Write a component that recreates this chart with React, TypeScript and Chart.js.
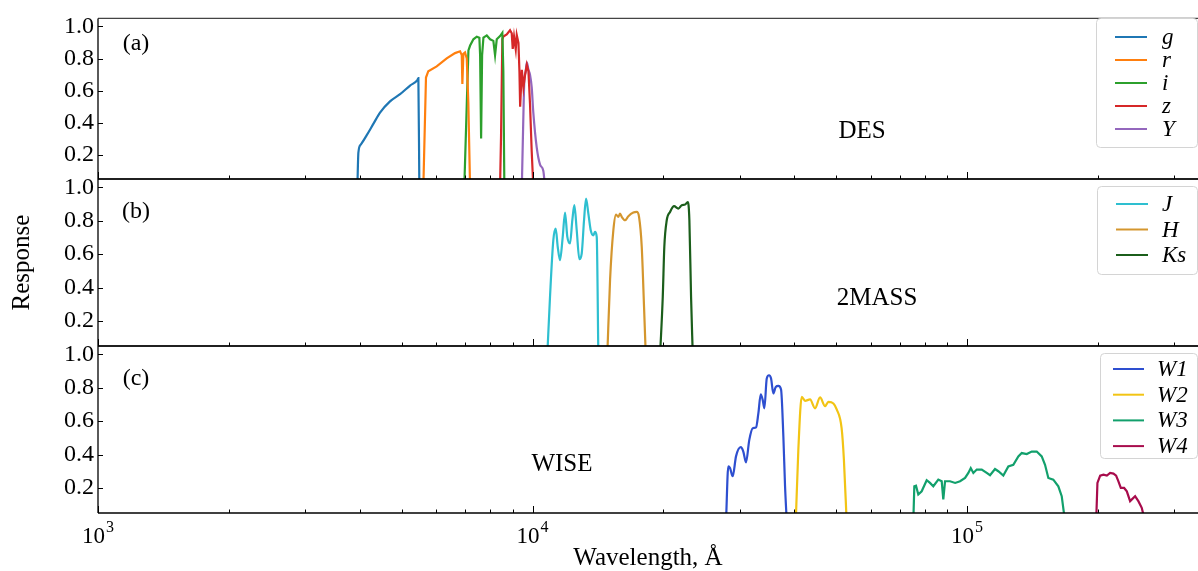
import React, { useEffect, useRef } from 'react';
import { Chart, registerables } from 'chart.js';

Chart.register(...registerables);

const WIDTH = 1198;
const HEIGHT = 571;
const SERIF = "'Liberation Serif', 'Times New Roman', Times, serif";

// axis ranges and ticks
const xMin = 1000;
const xMax = 340000;
const yMin = 0.05;
const yMax = 1.05;
const yTickValues = [0.2, 0.4, 0.6, 0.8, 1.0];
const xMajorTicks = [1e3, 1e4, 1e5];
const xMajorExponents = ['3', '4', '5'];

// ---------- DES ----------
const gWave = [3953, 3974, 4024, 4154, 4302, 4457, 4699, 4956, 5226, 5432, 5461, 5489];
const gResp = [0, 0.214, 0.264, 0.323, 0.393, 0.463, 0.533, 0.578, 0.632, 0.666, 0.678, 0];
const rWave = [5607, 5686, 5756, 6018, 6346, 6632, 6812, 6873, 6895, 6932, 6994, 7057, 7117, 7182];
const rResp = [0, 0.682, 0.721, 0.751, 0.801, 0.834, 0.845, 0.821, 0.642, 0.829, 0.838, 0.8, 0.522, 0];
const iWave = [6966, 7059, 7120, 7184, 7310, 7443, 7545, 7575, 7615, 7655, 7709, 7848, 7987, 8126, 8199, 8273, 8419, 8522, 8567, 8613];
const iResp = [0, 0.522, 0.851, 0.881, 0.92, 0.936, 0.93, 0.821, 0.303, 0.821, 0.93, 0.944, 0.92, 0.91, 0.821, 0.92, 0.94, 0.96, 0.72, 0];
const zWave = [8419, 8464, 8522, 8567, 8722, 8877, 8957, 9004, 9067, 9149, 9198, 9281, 9330, 9365, 9449, 9530, 9616, 9702, 9786, 9867, 9957, 10042];
const zResp = [0, 0.323, 0.92, 0.937, 0.95, 0.976, 0.957, 0.86, 0.937, 0.858, 0.946, 0.897, 0.72, 0.5, 0.73, 0.62, 0.701, 0.761, 0.721, 0.519, 0.221, 0];
const yWave = [9449, 9530, 9575, 9646, 9702, 9786, 9867, 9957, 10042, 10226, 10406, 10590, 10685];
const yResp = [0, 0.463, 0.66, 0.72, 0.777, 0.73, 0.7, 0.62, 0.463, 0.245, 0.14, 0.1, 0];

// ---------- 2MASS ----------
const jWave = [10816, 10971, 11165, 11307, 11428, 11568, 11735, 11879, 12025, 12198, 12348, 12480, 12639, 12815, 12978, 13138, 13278, 13443, 13612, 13801, 13926, 14052, 14172];
const jResp = [0, 0.345, 0.684, 0.753, 0.644, 0.564, 0.703, 0.849, 0.703, 0.664, 0.803, 0.893, 0.743, 0.57, 0.604, 0.803, 0.932, 0.843, 0.743, 0.713, 0.733, 0.703, 0];
const hWave = [14865, 15081, 15346, 15567, 15758, 15900, 16044, 16328, 16616, 17061, 17371, 17584, 17837, 18056, 18219];
const hResp = [0, 0.445, 0.743, 0.837, 0.823, 0.843, 0.823, 0.803, 0.827, 0.849, 0.853, 0.823, 0.644, 0.285, 0];
const ksWave = [19660, 19940, 20105, 20365, 20725, 21170, 21655, 22050, 22440, 22765, 22960, 23165, 23375];
const ksResp = [0, 0.345, 0.644, 0.803, 0.853, 0.887, 0.873, 0.893, 0.897, 0.912, 0.803, 0.345, 0];

// ---------- WISE ----------
const w1Wave = [27880, 28220, 28475, 28885, 29395, 30140, 30555, 30995, 31540, 32120, 32690, 33090, 33510, 33870, 34160, 34595, 35020, 35395, 35830, 36285, 36790, 37320, 37780, 38120, 38465];
const w1Resp = [0, 0.329, 0.319, 0.27, 0.389, 0.444, 0.418, 0.353, 0.488, 0.558, 0.563, 0.646, 0.76, 0.726, 0.677, 0.855, 0.875, 0.855, 0.766, 0.805, 0.811, 0.79, 0.508, 0.21, 0];
const w2Wave = [40350, 40900, 41650, 42380, 43520, 44680, 45890, 47130, 47960, 49250, 50120, 51440, 52070, 52830];
const w2Resp = [0, 0.429, 0.746, 0.722, 0.73, 0.677, 0.742, 0.69, 0.716, 0.706, 0.671, 0.558, 0.369, 0];
const w3Wave = [75220, 75620, 76300, 77230, 78630, 80740, 82170, 83620, 85870, 87430, 88170, 88990, 91370, 93890, 96370, 98950, 100690, 101980, 103390, 105270, 108090, 110990, 112950, 115970, 118010, 121190, 124450, 127780, 131220, 133620, 137210, 140880, 144660, 148540, 151170, 153830, 157950, 162200, 165140, 168060];
const w3Resp = [0, 0.21, 0.214, 0.161, 0.18, 0.246, 0.23, 0.21, 0.25, 0.24, 0.131, 0.24, 0.24, 0.23, 0.24, 0.26, 0.29, 0.319, 0.29, 0.31, 0.31, 0.29, 0.276, 0.313, 0.3, 0.274, 0.329, 0.339, 0.389, 0.409, 0.403, 0.418, 0.418, 0.389, 0.339, 0.26, 0.25, 0.21, 0.151, 0];
const w4Wave = [198200, 199540, 202450, 206020, 209760, 213460, 217230, 220310, 223020, 225870, 229850, 233160, 237280, 243650, 247870, 252350, 256800];
const w4Resp = [0, 0.23, 0.274, 0.28, 0.274, 0.29, 0.286, 0.274, 0.24, 0.2, 0.2, 0.18, 0.121, 0.151, 0.121, 0.081, 0];

type Band = { label: string; wave: number[]; resp: number[]; color: string; smooth?: boolean };

const desBands: Band[] = [
  { label: 'g', wave: gWave, resp: gResp, color: '#1f77b4', smooth: true },
  { label: 'r', wave: rWave, resp: rResp, color: '#ff7f0e' },
  { label: 'i', wave: iWave, resp: iResp, color: '#2ca02c' },
  { label: 'z', wave: zWave, resp: zResp, color: '#d62728' },
  { label: 'Y', wave: yWave, resp: yResp, color: '#9467bd', smooth: true },
];
const tmassBands: Band[] = [
  { label: 'J', wave: jWave, resp: jResp, color: '#2ebfd0', smooth: true },
  { label: 'H', wave: hWave, resp: hResp, color: '#d4962e', smooth: true },
  { label: 'Ks', wave: ksWave, resp: ksResp, color: '#1b5e1b', smooth: true },
];
const wiseBands: Band[] = [
  { label: 'W1', wave: w1Wave, resp: w1Resp, color: '#2e4fd0', smooth: true },
  { label: 'W2', wave: w2Wave, resp: w2Resp, color: '#f2c414', smooth: true },
  { label: 'W3', wave: w3Wave, resp: w3Resp, color: '#12a06c' },
  { label: 'W4', wave: w4Wave, resp: w4Resp, color: '#a80c4c' },
];

type Panel = {
  key: string;
  areaTop: number;
  areaBottom: number;
  bands: Band[];
  tag: string;
  tagPos: [number, number];
  name: string;
  namePos: [number, number];
  topColor: string;
  legend: { left: number; top: number; right: number; bottom: number; row0: number; step: number; lineX0: number; lineX1: number; textX: number; font: number };
  isBottom: boolean;
  yTitle?: string;
};

const panels: Panel[] = [
  {
    key: 'a', areaTop: 12, areaBottom: 179, bands: desBands, tag: '(a)', tagPos: [136, 44], name: 'DES', namePos: [862, 131],
    topColor: '#444', isBottom: false,
    legend: { left: 1096, top: 18, right: 1197, bottom: 147, row0: 37, step: 23, lineX0: 1115, lineX1: 1147, textX: 1162, font: 23 },
  },
  {
    key: 'b', areaTop: 179, areaBottom: 346, bands: tmassBands, tag: '(b)', tagPos: [136, 212], name: '2MASS', namePos: [877, 298],
    topColor: '#000', isBottom: false, yTitle: 'Response',
    legend: { left: 1097, top: 186, right: 1197, bottom: 274, row0: 204, step: 25.5, lineX0: 1116, lineX1: 1148, textX: 1162, font: 23 },
  },
  {
    key: 'c', areaTop: 346, areaBottom: 513, bands: wiseBands, tag: '(c)', tagPos: [136, 379], name: 'WISE', namePos: [562, 464],
    topColor: '#000', isBottom: true,
    legend: { left: 1100, top: 353, right: 1197, bottom: 458, row0: 369, step: 25.7, lineX0: 1113, lineX1: 1144, textX: 1157, font: 23 },
  },
];

function roundRectPath(ctx: CanvasRenderingContext2D, x0: number, y0: number, x1: number, y1: number, r: number) {
  ctx.beginPath();
  ctx.moveTo(x0 + r, y0);
  ctx.lineTo(x1 - r, y0);
  ctx.quadraticCurveTo(x1, y0, x1, y0 + r);
  ctx.lineTo(x1, y1 - r);
  ctx.quadraticCurveTo(x1, y1, x1 - r, y1);
  ctx.lineTo(x0 + r, y1);
  ctx.quadraticCurveTo(x0, y1, x0, y1 - r);
  ctx.lineTo(x0, y0 + r);
  ctx.quadraticCurveTo(x0, y0, x0 + r, y0);
  ctx.closePath();
}

function makeDecor(panel: Panel) {
  return {
    id: 'decor-' + panel.key,
    afterDraw(chart: any) {
      const { ctx, chartArea: ca } = chart;
      const xs = chart.scales.x;
      const ys = chart.scales.y;
      ctx.save();
      // top spine
      ctx.strokeStyle = panel.topColor;
      ctx.lineWidth = 1.2;
      ctx.beginPath();
      ctx.moveTo(ca.left, ca.top);
      ctx.lineTo(ca.right, ca.top);
      ctx.stroke();
      // left & bottom spines
      ctx.strokeStyle = '#000';
      ctx.lineWidth = 1.3;
      ctx.beginPath();
      ctx.moveTo(ca.left, ca.top);
      ctx.lineTo(ca.left, ca.bottom);
      ctx.stroke();
      ctx.lineWidth = 1.5;
      ctx.beginPath();
      ctx.moveTo(ca.left, ca.bottom);
      ctx.lineTo(ca.right, ca.bottom);
      ctx.stroke();
      // y ticks (inward)
      ctx.lineWidth = 1;
      yTickValues.forEach((v) => {
        const py = Math.round(ys.getPixelForValue(v)) + 0.5;
        ctx.beginPath();
        ctx.moveTo(ca.left, py);
        ctx.lineTo(ca.left + 5, py);
        ctx.stroke();
      });
      // x ticks (inward, on bottom spine)
      for (let dec = 3; dec <= 5; dec++) {
        for (let m = 1; m <= 9; m++) {
          const v = m * Math.pow(10, dec);
          if (v > xMax) continue;
          const px = Math.round(xs.getPixelForValue(v)) + 0.5;
          const len = m === 1 ? 7 : 3.5;
          ctx.beginPath();
          ctx.moveTo(px, ca.bottom);
          ctx.lineTo(px, ca.bottom - len);
          ctx.stroke();
        }
      }
      // annotations
      ctx.fillStyle = '#000';
      ctx.textAlign = 'center';
      ctx.textBaseline = 'middle';
      ctx.font = `24px ${SERIF}`;
      ctx.fillText(panel.tag, panel.tagPos[0], panel.tagPos[1]);
      ctx.font = `25px ${SERIF}`;
      ctx.fillText(panel.name, panel.namePos[0], panel.namePos[1]);
      // legend
      const L = panel.legend;
      roundRectPath(ctx, L.left + 0.5, L.top + 0.5, L.right + 0.5, L.bottom + 0.5, 4);
      ctx.fillStyle = 'rgba(255,255,255,0.85)';
      ctx.fill();
      ctx.strokeStyle = '#d4d4d4';
      ctx.lineWidth = 1;
      ctx.stroke();
      chart.data.datasets.forEach((ds: any, i: number) => {
        const yy = L.row0 + i * L.step;
        ctx.strokeStyle = ds.borderColor;
        ctx.lineWidth = 2;
        ctx.beginPath();
        ctx.moveTo(L.lineX0, yy);
        ctx.lineTo(L.lineX1, yy);
        ctx.stroke();
        ctx.fillStyle = '#000';
        ctx.font = `italic ${L.font}px ${SERIF}`;
        ctx.textAlign = 'left';
        ctx.textBaseline = 'middle';
        ctx.fillText(ds.label, L.textX, yy + 1);
      });
      // x tick labels with superscript exponents
      if (panel.isBottom) {
        ctx.fillStyle = '#000';
        ctx.textBaseline = 'alphabetic';
        ctx.textAlign = 'left';
        xMajorTicks.forEach((v, i) => {
          const px = xs.getPixelForValue(v);
          ctx.font = `23px ${SERIF}`;
          const wBase = ctx.measureText('10').width;
          ctx.font = `16px ${SERIF}`;
          const wExp = ctx.measureText(xMajorExponents[i]).width;
          const start = px - (wBase + 1 + wExp) / 2;
          ctx.font = `23px ${SERIF}`;
          ctx.fillText('10', start, 543);
          ctx.font = `16px ${SERIF}`;
          ctx.fillText(xMajorExponents[i], start + wBase + 1, 532);
        });
      }
      ctx.restore();
    },
  };
}

function buildConfig(panel: Panel): any {
  const datasets = panel.bands.map((b) => ({
    label: b.label,
    data: b.wave.map((w, i) => ({ x: w, y: b.resp[i] })),
    borderColor: b.color,
    backgroundColor: b.color,
    borderWidth: 2.2,
    pointRadius: 0,
    cubicInterpolationMode: b.smooth ? 'monotone' : 'default',
    tension: 0,
    fill: false,
    clip: 0,
  }));
  const bottomPad = panel.isBottom ? 0 : HEIGHT - panel.areaBottom;
  return {
    type: 'line',
    data: { datasets },
    options: {
      animation: false,
      responsive: false,
      maintainAspectRatio: false,
      layout: { padding: { top: panel.areaTop, bottom: bottomPad, left: 0, right: 0 } },
      plugins: { legend: { display: false }, tooltip: { enabled: false }, title: { display: false } },
      scales: {
        x: {
          type: 'logarithmic',
          min: xMin,
          max: xMax,
          display: panel.isBottom,
          grid: { display: false, drawTicks: false },
          border: { display: false },
          ticks: { display: false },
          title: {
            display: panel.isBottom,
            text: 'Wavelength, Å',
            color: '#000',
            font: { family: SERIF, size: 25 },
            padding: { top: 0, bottom: -2 },
          },
          afterFit: (scale: any) => {
            scale.height = panel.isBottom ? HEIGHT - panel.areaBottom : 0;
          },
        },
        y: {
          type: 'linear',
          min: yMin,
          max: yMax,
          grid: { display: false, drawTicks: false },
          border: { display: false },
          afterBuildTicks: (scale: any) => {
            scale.ticks = yTickValues.map((v) => ({ value: v }));
          },
          afterFit: (scale: any) => {
            scale.width = 98;
          },
          ticks: {
            color: '#000',
            padding: 4,
            font: { family: SERIF, size: 24 },
            callback: (v: number) => Number(v).toFixed(1),
          },
          title: {
            display: !!panel.yTitle,
            text: panel.yTitle || '',
            color: '#000',
            font: { family: SERIF, size: 25 },
            padding: { top: 7, bottom: 0 },
          },
        },
      },
    },
    plugins: [makeDecor(panel)],
  };
}

export default function App() {
  const refA = useRef<HTMLCanvasElement>(null);
  const refB = useRef<HTMLCanvasElement>(null);
  const refC = useRef<HTMLCanvasElement>(null);

  useEffect(() => {
    const refs = [refA, refB, refC];
    const charts = panels.map((p, i) => new Chart(refs[i].current as HTMLCanvasElement, buildConfig(p)));
    return () => charts.forEach((c) => c.destroy());
  }, []);

  const canvasStyle: React.CSSProperties = { position: 'absolute', left: 0, top: 0, width: WIDTH, height: HEIGHT };
  return (
    <div style={{ position: 'absolute', left: 0, top: 0, width: WIDTH, height: HEIGHT, background: '#fff', overflow: 'hidden' }}>
      <canvas ref={refA} width={WIDTH} height={HEIGHT} style={canvasStyle} />
      <canvas ref={refB} width={WIDTH} height={HEIGHT} style={canvasStyle} />
      <canvas ref={refC} width={WIDTH} height={HEIGHT} style={canvasStyle} />
    </div>
  );
}
